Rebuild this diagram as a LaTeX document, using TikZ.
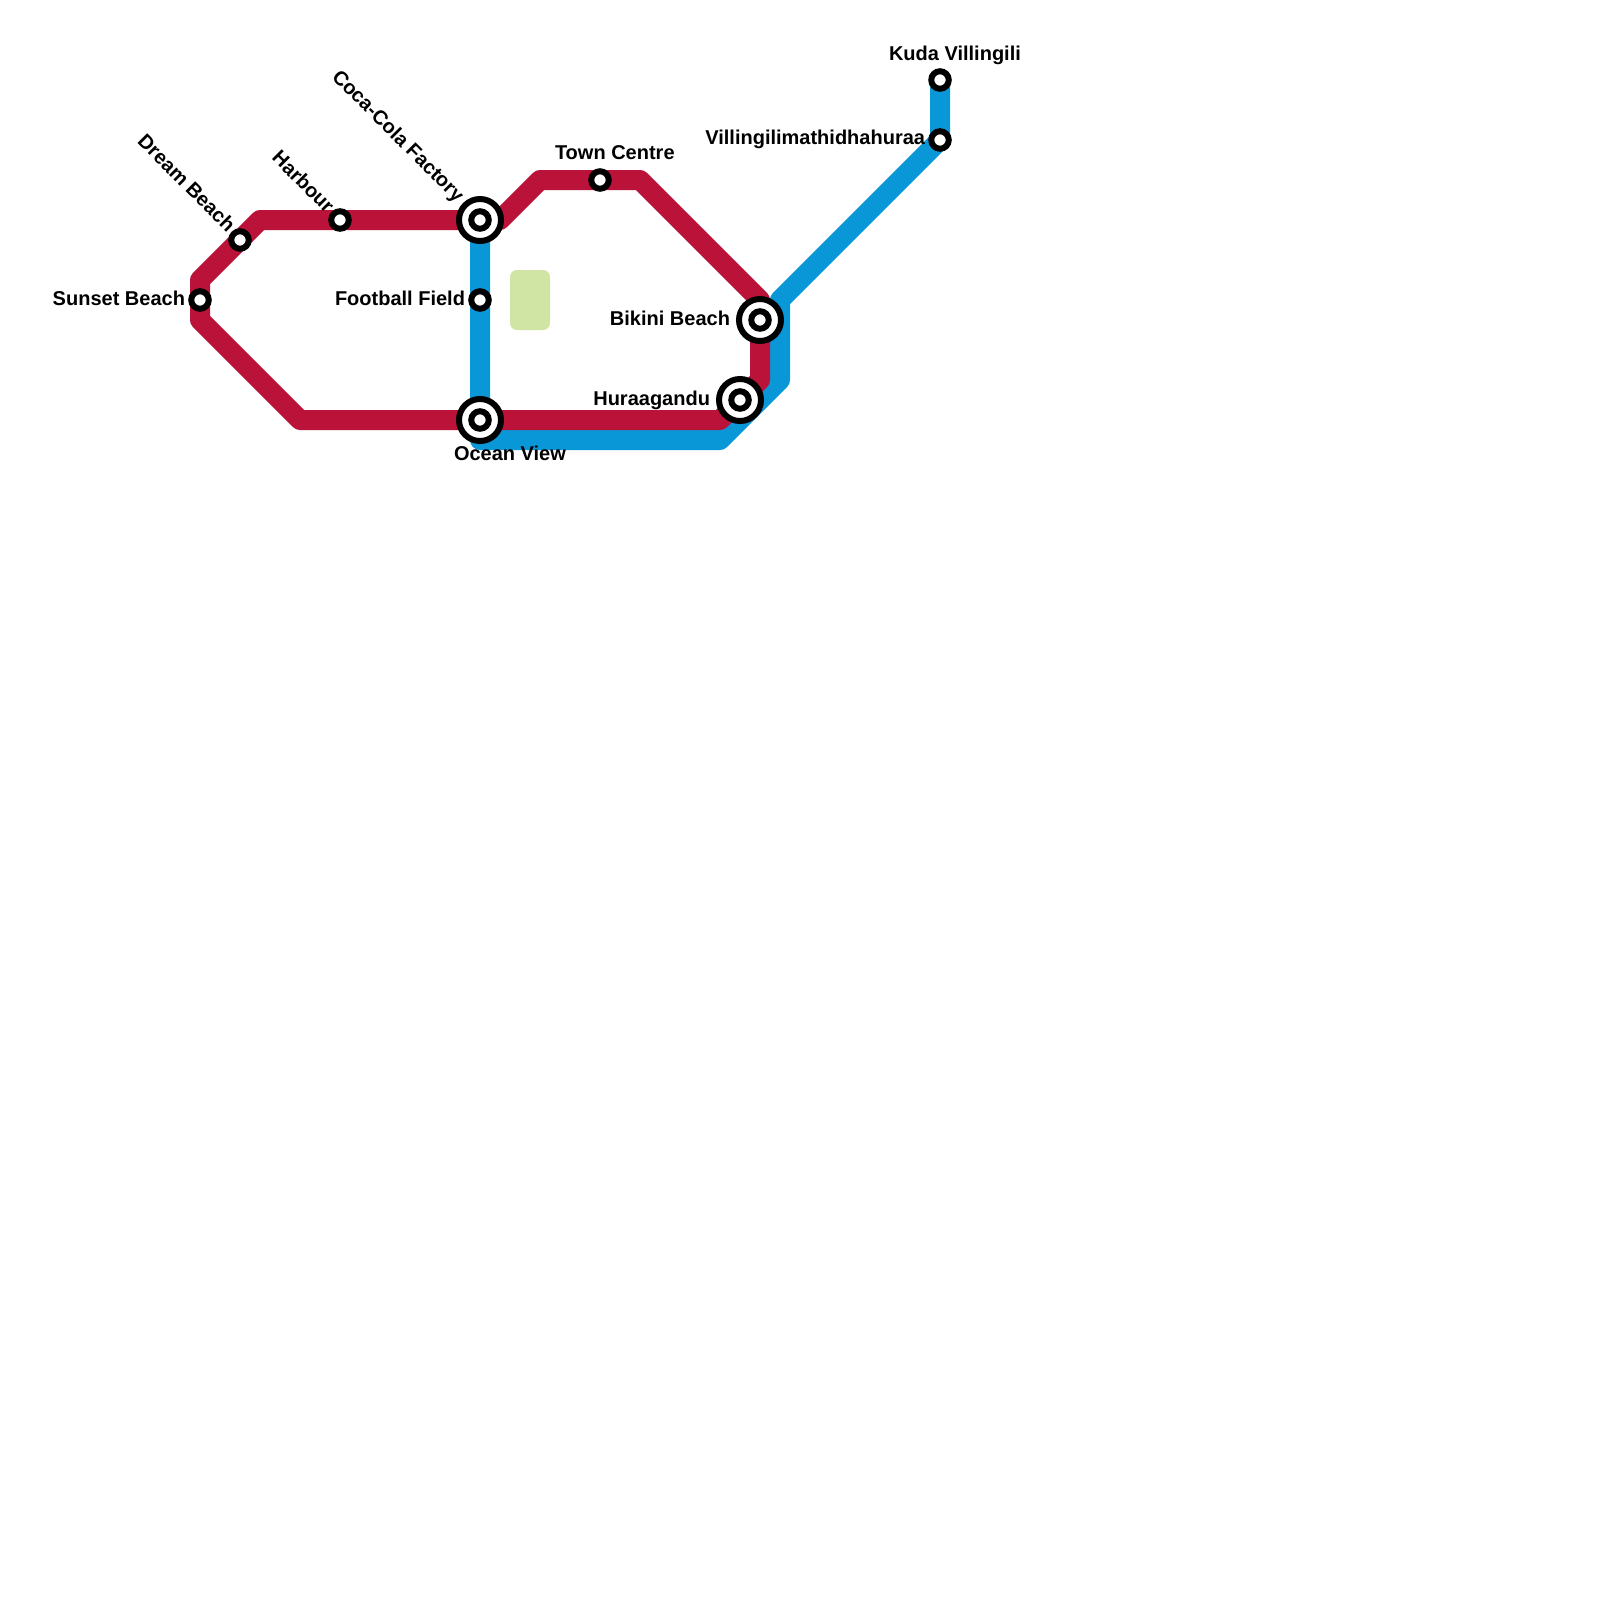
\documentclass[tikz,border=0pt]{standalone}
\usepackage{fontspec}
\setmainfont{Liberation Sans}
\definecolor{redline}{HTML}{BB1239}
\definecolor{blueline}{HTML}{0A97D8}
\definecolor{parkgreen}{HTML}{D0E4A4}
\tikzset{
  metro/.style={line width=20pt,line join=round,line cap=butt},
  stationdot/.style={circle,draw=black,fill=white,line width=6pt,inner sep=0pt,minimum size=17.5pt,outer sep=0pt},
  interchange/.style={circle,draw=black,fill=white,line width=6pt,inner sep=0pt,minimum size=42pt,outer sep=0pt},
  lbl/.style={inner sep=0pt,outer sep=0pt,text=black,font=\fontsize{20}{24}\selectfont\bfseries},
  lblE/.style={lbl,anchor=base east},
  lblW/.style={lbl,anchor=base west},
  lblD/.style={lbl,anchor=base east,rotate=-45},
}
\begin{document}
\begin{tikzpicture}[x=1pt,y=-1pt]
\useasboundingbox (0,0) rectangle (1600,1600);
\node[fill=parkgreen,rounded corners=7pt,minimum width=40pt,minimum height=60pt,inner sep=0pt,outer sep=0pt] (park) at (530,300) {};
% station positions
\coordinate (sunset) at (200,300);
\coordinate (dream) at (240,240);
\coordinate (harbour) at (340,220);
\coordinate (coca) at (480,220);
\coordinate (football) at (480,300);
\coordinate (ocean) at (480,420);
\coordinate (town) at (600,180);
\coordinate (bikini) at (760,320);
\coordinate (hura) at (740,400);
\coordinate (villi) at (940,140);
\coordinate (kuda) at (940,80);
% bends
\coordinate (r0) at (500,220);
\coordinate (r1) at (540,180);
\coordinate (r2) at (640,180);
\coordinate (r3) at (760,300);
\coordinate (r4) at (760,380);
\coordinate (r5) at (720,420);
\coordinate (r6) at (300,420);
\coordinate (r7) at (200,320);
\coordinate (r8) at (200,280);
\coordinate (r9) at (260,220);
\coordinate (b1) at (780,300);
\coordinate (b2) at (780,380);
\coordinate (b3) at (720,440);
\coordinate (b4) at (480,440);
% lines
\draw[metro,blueline] (kuda) -- (villi) -- (b1) -- (b2) -- (b3) -- (b4) -- (coca);
\draw[metro,redline] (r0) -- (r1) -- (r2) -- (r3) -- (r4) -- (r5) -- (r6) -- (r7) -- (r8) -- (r9) -- cycle;
% stations
\node[stationdot] (sSunset) at (sunset) {};
\node[stationdot] (sDream) at (dream) {};
\node[stationdot] (sHarbour) at (harbour) {};
\node[stationdot] (sFootball) at (football) {};
\node[stationdot] (sTown) at (town) {};
\node[stationdot] (sVilli) at (villi) {};
\node[stationdot] (sKuda) at (kuda) {};
\node[interchange] (oCoca) at (coca) {};
\node[stationdot] (sCoca) at (coca) {};
\node[interchange] (oOcean) at (ocean) {};
\node[stationdot] (sOcean) at (ocean) {};
\node[interchange] (oBikini) at (bikini) {};
\node[stationdot] (sBikini) at (bikini) {};
\node[interchange] (oHura) at (hura) {};
\node[stationdot] (sHura) at (hura) {};
% labels
\node[lblE] (tSunset) at (185,305) {Sunset Beach};
\node[lblD] (tDream) at (227,233) {Dream Beach};
\node[lblD] (tHarbour) at (326,214) {Harbour};
\node[lblD] (tCoca) at (456,203) {Coca-Cola Factory};
\node[lblE] (tFootball) at (465,305) {Football Field};
\node[lblW] (tOcean) at (454,460) {Ocean View};
\node[lblW] (tTown) at (555,160) {Town Centre};
\node[lblE] (tBikini) at (730,325) {Bikini Beach};
\node[lblE] (tHura) at (710,405) {Huraagandu};
\node[lblE] (tVilli) at (925,145) {Villingilimathidhahuraa};
\node[lblW] (tKuda) at (889,60.5) {Kuda Villingili};
\end{tikzpicture}
\end{document}
